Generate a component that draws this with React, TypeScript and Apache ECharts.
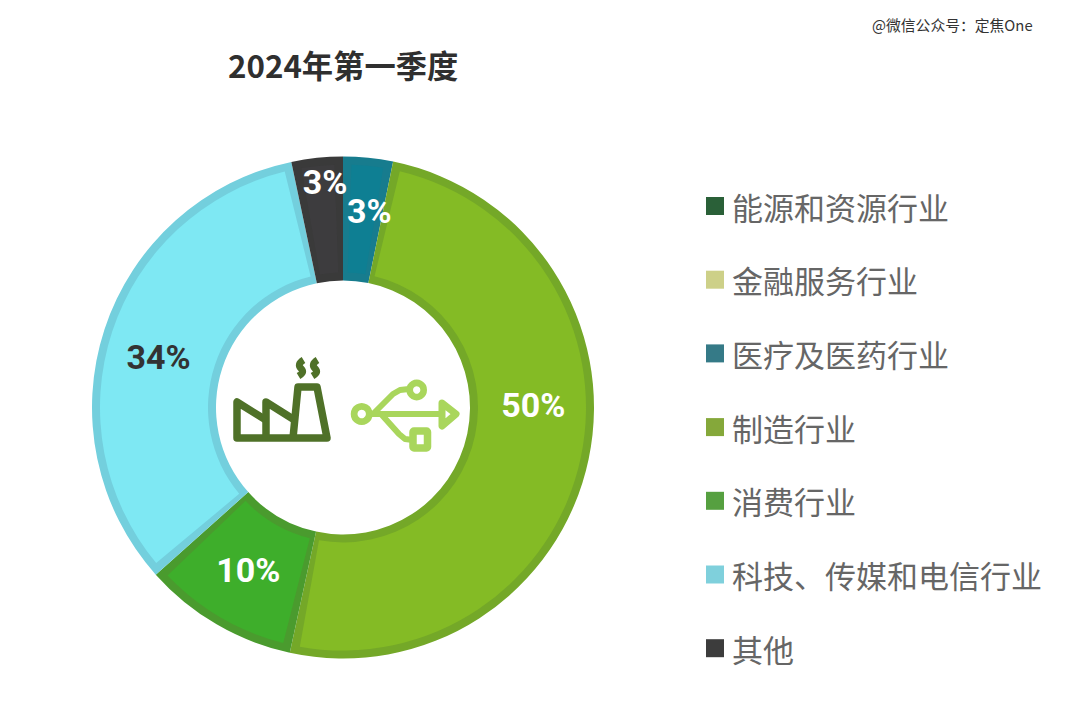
import * as echarts from "echarts";
import { useEffect, useRef } from "react";

const categories = ["能源和资源行业", "金融服务行业", "医疗及医药行业", "制造行业", "消费行业", "科技、传媒和电信行业", "其他"];
// arc sizes as measured on the ring; the printed numbers are rounded differently in the source
const shares = [0, 0, 3.2, 50.2, 10, 33.3, 3.3];
const shareLabels = ["0%", "0%", "3%", "50%", "10%", "34%", "3%"];
const sliceColors = ["#2a6038", "#cdd088", "#0e7f93", "#84bb25", "#3eae2b", "#7ee8f3", "#3d3c3e"];
const edgeColors = ["#2a6038", "#cdd088", "#177c8e", "#74a828", "#4a9b2e", "#73cfdd", "#3a3a3a"];
const legendColors = ["#2a6038", "#cdd088", "#357a87", "#85a83a", "#56a040", "#7fd0dc", "#3c3c3c"];
const labelColors = ["#fff", "#fff", "#fff", "#fff", "#fff", "#333", "#fff"];
const labelShifts = [[0, 0], [0, 0], [7, -5], [2.5, -42], [2, -3], [-2, 9], [2, -35]];

const smokePath = "M6 0 C1 3 1 6 3.5 8.5 C6 11 6 13 1 16";
echarts.graphic.registerShape("smoke", (echarts.graphic as any).extendPath(smokePath, {}));

const factoryColor = "#4f7128";
const usbColor = "#a9d65c";

const factoryIcon = [
	{
		type: "polyline",
		shape: { points: [[266, 420], [237, 402], [237, 438], [327, 438], [317, 387], [298, 387], [293, 438]] },
		style: { fill: "none", stroke: factoryColor, lineWidth: 7.5, lineJoin: "round" }
	},
	{
		type: "polyline",
		shape: { points: [[266, 438], [266, 402], [293, 419]] },
		style: { fill: "none", stroke: factoryColor, lineWidth: 7.5, lineJoin: "round" }
	},
	{ type: "smoke", x: 297.5, y: 360, style: { fill: "none", stroke: factoryColor, lineWidth: 7 } },
	{ type: "smoke", x: 311.5, y: 360, style: { fill: "none", stroke: factoryColor, lineWidth: 7 } }
];

const usbIcon = [
	{ type: "circle", shape: { cx: 361.7, cy: 414, r: 7.6 }, style: { fill: "none", stroke: usbColor, lineWidth: 6.7 } },
	{ type: "circle", shape: { cx: 416.7, cy: 390, r: 7 }, style: { fill: "none", stroke: usbColor, lineWidth: 6.6 } },
	{ type: "line", shape: { x1: 370, y1: 414, x2: 444, y2: 414 }, style: { stroke: usbColor, lineWidth: 6 } },
	{
		type: "polygon",
		shape: { points: [[442, 403], [456, 414], [442, 426]] },
		style: { fill: "none", stroke: usbColor, lineWidth: 7, lineJoin: "round" }
	},
	{
		type: "polyline",
		shape: { points: [[373, 414], [393, 394], [400, 390], [409, 389]] },
		style: { fill: "none", stroke: usbColor, lineWidth: 6, lineJoin: "round" }
	},
	{
		type: "polyline",
		shape: { points: [[381, 414], [399, 434], [405, 439], [413, 440]] },
		style: { fill: "none", stroke: usbColor, lineWidth: 6, lineJoin: "round" }
	},
	{
		type: "rect",
		shape: { x: 413, y: 431, width: 14.5, height: 17, r: 1 },
		style: { fill: "none", stroke: usbColor, lineWidth: 7.5 }
	}
];

const option: any = {
	animation: false,
	backgroundColor: "#fff",
	title: [
		{
			text: "2024年第一季度",
			left: 223,
			top: 44,
			textStyle: { fontFamily: "Noto Sans CJK SC", fontSize: 31.3, fontWeight: "bold", color: "#2f2f2f" }
		},
		{
			text: "@微信公众号：定焦One",
			left: 867,
			top: 12,
			textStyle: { fontFamily: "Noto Sans CJK SC", fontSize: 14.8, fontWeight: "normal", color: "#333" }
		}
	],
	legend: {
		orient: "vertical",
		left: 701,
		top: 185,
		itemWidth: 18,
		itemHeight: 18,
		itemGap: 41.7,
		selectedMode: false,
		icon: "rect",
		data: categories.map((name, i) => ({ name, itemStyle: { color: legendColors[i], borderWidth: 0 } })),
		textStyle: { fontFamily: "Noto Sans CJK SC", fontSize: 31, lineHeight: 32, color: "#666", padding: [0, 0, 0, 3] }
	},
	series: [
		// edge ring, full size
		{
			type: "pie",
			center: [343, 407.5],
			radius: [127, 251],
			startAngle: 90,
			clockwise: true,
			silent: true,
			label: { show: false },
			labelLine: { show: false },
			data: categories.map((name, i) => ({
				name,
				value: shares[i],
				itemStyle: { color: edgeColors[i] }
			}))
		},
		// fills, inset from the edge ring
		{
			type: "pie",
			center: [343, 407.5],
			radius: [135, 243],
			startAngle: 90,
			clockwise: true,
			silent: true,
			padAngle: 4,
			avoidLabelOverlap: false,
			labelLayout: { hideOverlap: false },
			labelLine: { show: false },
			data: categories
				.map((name, i) => ({
					name,
					value: shares[i],
					itemStyle: { color: sliceColors[i] },
					label: {
						show: true,
						position: "inside",
						offset: labelShifts[i],
						formatter: shareLabels[i],
						fontFamily: "Roboto",
						fontWeight: "bold",
						fontSize: 34,
						color: labelColors[i]
					}
				}))
				.filter(d => d.value > 0)
		}
	],
	graphic: { elements: [...factoryIcon, ...usbIcon] }
};

const App = () => {
	const chartRef = useRef<HTMLDivElement>(null);

	useEffect(() => {
		document.body.style.margin = "0";
		const chart = echarts.init(chartRef.current!, null, { renderer: "svg" });
		chart.setOption(option);

		return () => {
			chart.dispose();
		};
	}, []);

	return <div ref={chartRef} style={{ width: "1080px", height: "703px" }} />;
};

export default App;
